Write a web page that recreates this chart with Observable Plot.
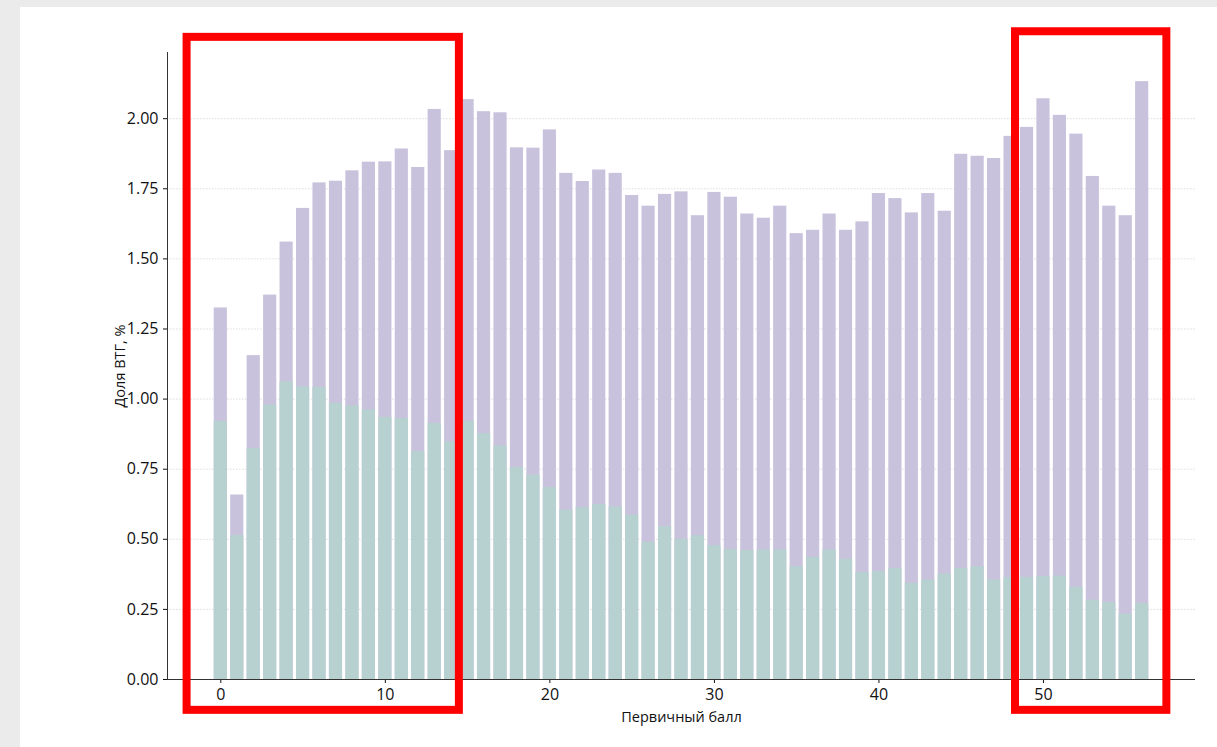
<!DOCTYPE html>
<html>
<head>
<meta charset="utf-8">
<script src="https://cdn.jsdelivr.net/npm/d3@7"></script>
<script src="https://cdn.jsdelivr.net/npm/@observablehq/plot@0.6"></script>
<style>
  html, body { margin: 0; padding: 0; background: #ebebeb; }
  #wrap { position: absolute; left: 20px; top: 7px; width: 1197px; height: 740px; background: #ffffff; }
  svg { display: block; }
</style>
</head>
<body>
<div id="wrap"></div>
<script>
// Primary score (x categories)
const scores = d3.range(0, 57);
// Total share (purple bar), %
const totalShare = [
  1.325, 0.658, 1.155, 1.371, 1.560, 1.680, 1.771, 1.777, 1.814, 1.845,
  1.846, 1.892, 1.826, 2.033, 1.886, 2.068, 2.025, 2.021, 1.896, 1.895,
  1.960, 1.805, 1.776, 1.817, 1.805, 1.726, 1.688, 1.730, 1.739, 1.654,
  1.737, 1.720, 1.660, 1.645, 1.688, 1.590, 1.602, 1.660, 1.602, 1.632,
  1.733, 1.715, 1.664, 1.733, 1.670, 1.873, 1.866, 1.858, 1.937, 1.969,
  2.071, 2.012, 1.945, 1.794, 1.688, 1.654, 2.132
];
// Lower part share (teal bar), %
const partShare = [
  0.921, 0.514, 0.824, 0.979, 1.062, 1.044, 1.042, 0.985, 0.976, 0.961,
  0.935, 0.931, 0.813, 0.913, 0.848, 0.921, 0.877, 0.833, 0.756, 0.729,
  0.685, 0.604, 0.613, 0.624, 0.615, 0.586, 0.490, 0.545, 0.500, 0.513,
  0.477, 0.464, 0.460, 0.462, 0.462, 0.402, 0.436, 0.462, 0.429, 0.381,
  0.385, 0.396, 0.343, 0.355, 0.376, 0.396, 0.402, 0.355, 0.364, 0.364,
  0.367, 0.369, 0.329, 0.283, 0.274, 0.233, 0.271
];
// Y tick values
const yTicks = [0, 0.25, 0.5, 0.75, 1.0, 1.25, 1.5, 1.75, 2.0];
// X tick values
const xTicks = [0, 10, 20, 30, 40, 50];
// Highlighted score ranges (red frames)
const highlightFrom = [-2.05, 48.3];
const highlightTo = [14.5, 57.5];
const highlightTop = [2.29, 2.31];
const highlightBottom = [-0.11, -0.11];

const data = scores.map((s, i) => ({score: s, total: totalShare[i], part: partShare[i]}));
const highlights = highlightFrom.map((f, i) => ({from: f, to: highlightTo[i], top: highlightTop[i], bottom: highlightBottom[i]}));

const halfWidth = 0.4;
const xDomain = [-3.24, 59.24];
const yDomain = [0, 2.236];

const chart = Plot.plot({
  width: 1197,
  height: 740,
  marginLeft: 147,
  marginRight: 22,
  marginTop: 45,
  marginBottom: 68,
  style: {fontFamily: "'Open Sans', 'Noto Sans', sans-serif", fontSize: "16px", color: "#111", background: "transparent"},
  x: {domain: xDomain, ticks: xTicks, tickSize: 4, tickPadding: 5, label: null},
  y: {domain: yDomain, ticks: yTicks, tickFormat: ".2f", tickSize: 4, tickPadding: 5, label: null},
  marks: [
    Plot.gridY(yTicks, {stroke: "#d6d6d6", strokeOpacity: 1, strokeDasharray: "1.5,1.5", strokeWidth: 0.8}),
    Plot.rectY(data, {x1: d => d.score - halfWidth, x2: d => d.score + halfWidth, y1: 0, y2: "total", fill: "#c9c2dc"}),
    Plot.rectY(data, {x1: d => d.score - halfWidth, x2: d => d.score + halfWidth, y1: 0, y2: "part", fill: "#b7d1d1"}),
    Plot.ruleY([0], {stroke: "#333", strokeWidth: 1}),
    Plot.ruleX([xDomain[0]], {stroke: "#333", strokeWidth: 1}),
    Plot.text(["Доля ВТГ, %"], {frameAnchor: "left", rotate: -90, dx: -47, textAnchor: "middle", lineAnchor: "middle", fontSize: 14.5, fill: "#111"}),
    Plot.text(["Первичный балл"], {frameAnchor: "bottom", dy: 38, textAnchor: "middle", lineAnchor: "middle", fontSize: 14.5, fill: "#111"}),
    Plot.rect(highlights, {x1: "from", x2: "to", y1: "bottom", y2: "top", fill: "none", stroke: "#ff0000", strokeWidth: 8, clip: false})
  ]
});
document.getElementById("wrap").appendChild(chart);
</script>
</body>
</html>
